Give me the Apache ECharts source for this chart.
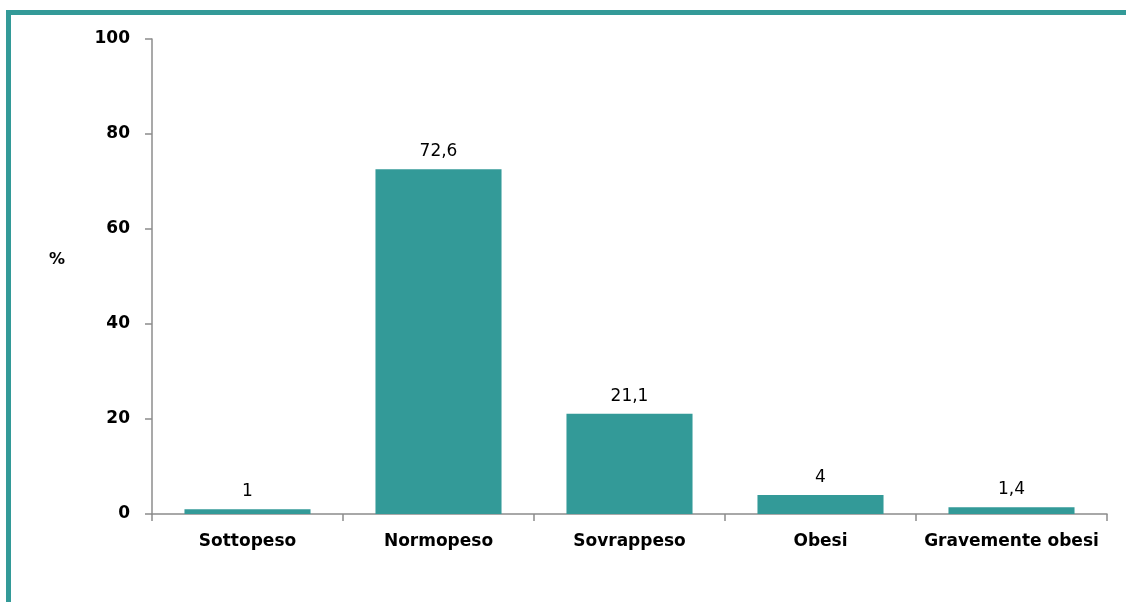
<!DOCTYPE html>
<html>
<head>
<meta charset="utf-8">
<script src="https://cdn.jsdelivr.net/npm/echarts@6/dist/echarts.min.js"></script>
<style>
    html, body { margin: 0; padding: 0; background: #fff; }
    #chart { width: 1126px; height: 602px; }
</style>
</head>
<body>
<div id="chart"></div>
<script>
// categorie di peso e percentuali
const categories = ['Sottopeso', 'Normopeso', 'Sovrappeso', 'Obesi', 'Gravemente obesi'];
const values = [1, 72.6, 21.1, 4, 1.4];
const yTicks = [0, 20, 40, 60, 80, 100];

const TEAL = '#339a98';
const FONT = '"DejaVu Sans", Verdana, sans-serif';

const chart = echarts.init(document.getElementById('chart'));

chart.setOption({
    animation: false,
    graphic: [
        // cornice in alto e a sinistra
        { type: 'rect', shape: { x: 6, y: 10, width: 1120, height: 5 }, style: { fill: TEAL } },
        { type: 'rect', shape: { x: 6, y: 10, width: 5, height: 592 }, style: { fill: TEAL } },
        {
            type: 'text',
            left: 49,
            top: 252,
            style: { text: '%', font: 'bold 16px ' + FONT, fill: '#000' },
        },
    ],
    grid: { left: 152, right: 19, top: 39, bottom: 88 },
    xAxis: {
        type: 'category',
        data: categories,
        axisLine: { lineStyle: { color: '#8c8c8c', width: 1.5 } },
        axisTick: { show: true, length: 7, lineStyle: { color: '#8c8c8c', width: 1.5 } },
        axisLabel: {
            interval: 0,
            margin: 19,
            color: '#000',
            fontWeight: 'bold',
            fontSize: 17,
            fontFamily: FONT,
        },
    },
    yAxis: {
        type: 'value',
        min: yTicks[0],
        max: yTicks[yTicks.length - 1],
        interval: 20,
        splitLine: { show: false },
        axisLine: { show: true, lineStyle: { color: '#8c8c8c', width: 1.5 } },
        axisTick: { show: true, length: 7, lineStyle: { color: '#8c8c8c', width: 1.5 } },
        axisLabel: {
            margin: 22,
            color: '#000',
            fontWeight: 'bold',
            fontSize: 17,
            fontFamily: FONT,
        },
    },
    series: [
        {
            type: 'bar',
            data: values,
            barWidth: '66%',
            itemStyle: { color: TEAL },
            label: {
                show: true,
                position: 'top',
                distance: 9,
                color: '#000',
                fontSize: 17,
                fontFamily: FONT,
                formatter: p => String(p.value).replace('.', ','),
            },
        },
    ],
});
</script>
</body>
</html>
